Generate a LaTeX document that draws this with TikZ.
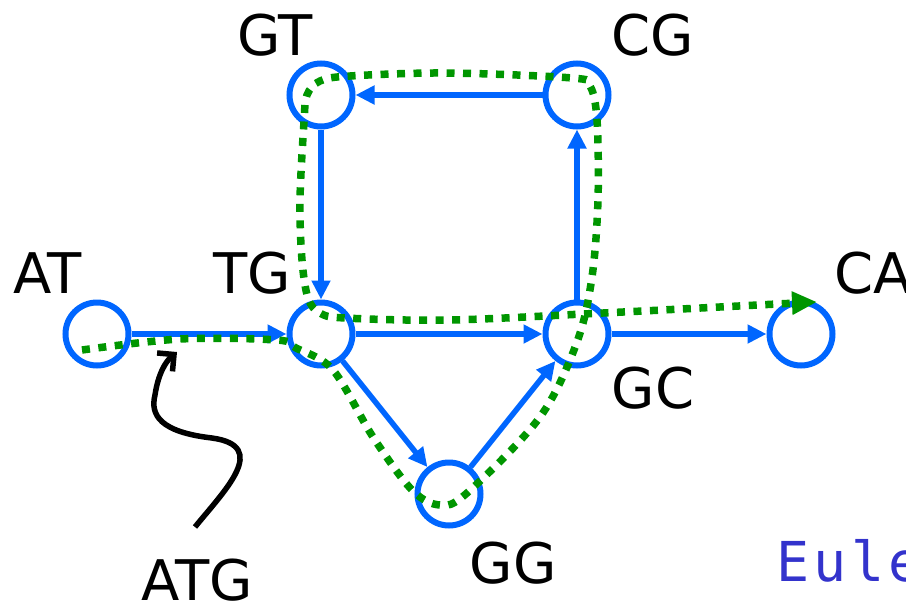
\documentclass[tikz,border=0pt]{standalone}
\usepackage{fontspec}
\setmainfont{DejaVu Sans}
\newfontfamily\monofont[LetterSpace=8]{DejaVu Sans Mono}
\usetikzlibrary{arrows.meta}
\definecolor{nodeblue}{RGB}{0,102,255}
\definecolor{pathgreen}{RGB}{0,150,0}
\definecolor{titleblue}{RGB}{51,51,204}
\begin{document}
\begin{tikzpicture}[x=1pt,y=-1pt,
  kmer/.style={circle,draw=nodeblue,line width=6pt,minimum size=63pt,inner sep=0pt},
  lbl/.style={font=\fontsize{56}{60}\selectfont,inner sep=0pt,anchor=base},
  edge/.style={draw=nodeblue,line width=5.5pt,-{Triangle[length=19pt,width=18pt]}},
  walk/.style={draw=pathgreen,line width=7.5pt,dash pattern=on 8pt off 8.5pt},
]
\useasboundingbox (0,0) rectangle (906,603);
\clip (0,0) rectangle (906,603);

% nodes
\node[kmer] (AT) at (97,334) {};
\node[kmer] (TG) at (321,334) {};
\node[kmer] (GT) at (321,95) {};
\node[kmer] (CG) at (577,95) {};
\node[kmer] (GC) at (577,334) {};
\node[kmer] (CA) at (801,334) {};
\node[kmer] (GG) at (449,494) {};

% labels
\node[lbl] (lAT) at (48,293) {AT};
\node[lbl] (lTG) at (252,293) {TG};
\node[lbl] (lGT) at (275,55) {GT};
\node[lbl] (lCG) at (653,55) {CG};
\node[lbl] (lCA) at (873,293) {CA};
\node[lbl] (lGC) at (653,408) {GC};
\node[lbl] (lGG) at (513,583) {GG};
\node[lbl] (lATG) at (197,600) {ATG};
\node[font=\monofont\fontsize{55}{60}\selectfont,text=titleblue,anchor=base west,inner sep=0pt] (title) at (776,581) {Euler};

% edges
\draw[edge] (AT) -- (TG);
\draw[edge] (TG) -- (GC);
\draw[edge] (GC) -- (CA);
\draw[edge] (GT) -- (TG);
\draw[edge] (GC) -- (CG);
\draw[edge] (CG) -- (GT);
\draw[edge] (TG) -- (GG);
\draw[edge] (GG) -- (GC);

% Eulerian walk
\draw[walk,-{Triangle[length=25pt,width=22pt]}] plot[smooth,tension=0.55] coordinates {
  (82,350) (180,339) (277,340) (296,348) (333,370) (373,437) (412,490) (440,505)
  (467,493) (540,417) (577,342) (592,277) (598,200) (597,120) (590,86) (572,78)
  (447,73) (350,76) (320,81) (307,95) (304,122) (300,200) (302,260) (308,298)
  (320,313) (345,318) (450,320) (603,313) (777,304) (817,302)};

% ATG pointer
\coordinate (atgtail) at (195,527);
\coordinate (atgtip) at (177,352);
\draw[line width=5.5pt,-{Straight Barb[length=12pt,width=24pt]}] (atgtail)
  .. controls (225,490) and (270,446) .. (212,438)
  .. controls (160,432) and (150,415) .. (155,395)
  .. controls (158,375) and (165,362) .. (atgtip);
\end{tikzpicture}
\end{document}
